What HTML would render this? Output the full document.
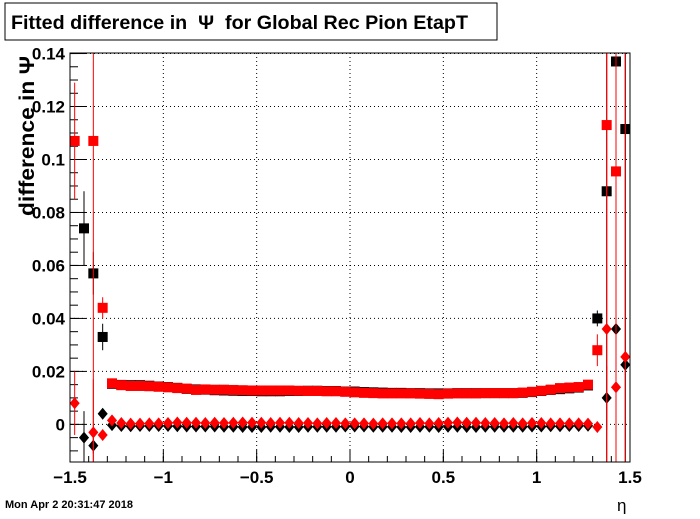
<!DOCTYPE html>
<html><head><meta charset="utf-8"><style>
body{margin:0;background:#fff;width:700px;height:514px;overflow:hidden;font-family:"Liberation Sans","DejaVu Sans",sans-serif}
</style></head><body>
<svg id="chart" width="700" height="514" xmlns="http://www.w3.org/2000/svg">
<rect x="0" y="0" width="700" height="514" fill="#fff"/>
<g id="grid"></g>
<g id="axes"></g>
<g id="marks"></g>
<rect x="70" y="53" width="560" height="409" fill="none" stroke="#000" stroke-width="1"/>
<rect x="5" y="3" width="492" height="37" fill="#fff" stroke="#000"/>
<text x="11" y="29" font-size="19" font-weight="bold" textLength="457" lengthAdjust="spacingAndGlyphs" style="white-space:pre">Fitted difference in  Ψ  for Global Rec Pion EtapT</text>
<text transform="translate(34,216) rotate(-90)" font-size="21" font-weight="bold" textLength="160" lengthAdjust="spacingAndGlyphs">difference in Ψ</text>
<text x="617" y="511" font-size="17">η</text>
<text x="5" y="508" font-size="11" font-weight="bold">Mon Apr  2 20:31:47 2018</text>
</svg>
<script>
const xTicks=[-1.5,-1,-0.5,0,0.5,1,1.5];
const xTickLabels=["\u22121.5","\u22121","\u22120.5","0","0.5","1","1.5"];
const yTicks=[0,0.02,0.04,0.06,0.08,0.1,0.12,0.14];
const yTickLabels=["0","0.02","0.04","0.06","0.08","0.1","0.12","0.14"];
const redSqMid=[0.0155,0.0148,0.0145,0.0145,0.0144,0.0142,0.014,0.0137,0.0135,0.013,0.0132,0.0131,0.0131,0.013,0.0129,0.0128,0.0128,0.0128,0.0128,0.0128,0.0127,0.0126,0.0126,0.0125,0.0125,0.0123,0.0121,0.0119,0.0118,0.0117,0.0117,0.0117,0.0117,0.0116,0.0115,0.0114,0.0116,0.0117,0.0117,0.0117,0.0118,0.0118,0.0118,0.0118,0.012,0.0123,0.0127,0.0131,0.0137,0.0139,0.0141,0.015];
const blackSqMid=[0.0153,0.0149,0.0148,0.0148,0.0146,0.0143,0.0141,0.0138,0.0134,0.0132,0.0131,0.0129,0.0128,0.0127,0.0126,0.0126,0.0125,0.0125,0.0125,0.0126,0.0126,0.0127,0.0127,0.0126,0.0126,0.0124,0.0124,0.0122,0.0121,0.012,0.0119,0.0119,0.0118,0.0118,0.0117,0.0117,0.0117,0.0118,0.0118,0.0118,0.0118,0.0118,0.0118,0.0118,0.0119,0.0122,0.0126,0.013,0.0133,0.0136,0.0139,0.0147];
const redDiaMid=[0.0015,0.0005,0.0003,0.0003,0.0004,0.0004,0.0005,0.0007,0.0006,0.0006,0.0005,0.0006,0.0005,0.0006,0.0007,0.0006,0.0006,0.0005,0.0006,0.0006,0.0005,0.0005,0.0004,0.0005,0.0005,0.0004,0.0004,0.0004,0.0003,0.0004,0.0004,0.0004,0.0004,0.0005,0.0004,0.0005,0.0006,0.0007,0.0006,0.0006,0.0005,0.0005,0.0004,0.0005,0.0004,0.0005,0.0005,0.0004,0.0004,0.0004,0.0004,0.0003];
const blackDiaMid=[-0.0003,-0.0006,-0.0007,-0.0006,-0.0006,-0.0006,-0.0006,-0.0007,-0.0008,-0.0008,-0.0008,-0.0008,-0.0009,-0.0009,-0.001,-0.001,-0.001,-0.0009,-0.0009,-0.001,-0.001,-0.0009,-0.0009,-0.0009,-0.0009,-0.0008,-0.0008,-0.0008,-0.0009,-0.0009,-0.0009,-0.001,-0.001,-0.0009,-0.0009,-0.001,-0.0009,-0.0009,-0.001,-0.001,-0.0009,-0.0009,-0.0009,-0.0009,-0.0009,-0.0008,-0.0008,-0.0007,-0.0007,-0.0006,-0.0006,-0.0005];
const redSqEdgeL=[0.107,null,0.107,0.044], redSqEdgeR=[0.028,0.113,0.0955,null];
const blackSqEdgeL=[null,0.074,0.057,0.033], blackSqEdgeR=[0.040,0.088,0.137,0.1115];
const redDiaEdgeL=[0.008,null,-0.003,-0.004], redDiaEdgeR=[-0.001,0.036,0.014,0.0255];
const blackDiaEdgeL=[null,-0.005,-0.008,0.004], blackDiaEdgeR=[null,0.010,0.036,0.0225];
const redSqErrL=[0.022,0,0.2,0.004], redSqErrR=[0.006,0.2,0.2,0];
const blackSqErrL=[0,0.014,0.008,0.005], blackSqErrR=[0.003,0.2,0.074,0.2];
const redDiaErrL=[0.012,0,0.02,0.002], redDiaErrR=[0.002,0.2,0.2,0.2];
const blackDiaErrL=[0,0.01,0.003,0.002], blackDiaErrR=[0,0.012,0.2,0.2];

const X0=70,X1=630,Y0=462,Y1=53, XMIN=-1.5,XMAX=1.5,YMIN=-0.0142,YMAX=0.1402;
const sx=v=>X0+(v-XMIN)/(XMAX-XMIN)*(X1-X0);
const sy=v=>Y0-(v-YMIN)/(YMAX-YMIN)*(Y0-Y1);
const NS="http://www.w3.org/2000/svg";
function mk(tag,attrs,parent){const e=document.createElementNS(NS,tag);for(const k in attrs)e.setAttribute(k,attrs[k]);parent.appendChild(e);return e;}
const grid=document.getElementById('grid'),axes=document.getElementById('axes'),marks=document.getElementById('marks');
xTicks.forEach((t,i)=>{
  const x=sx(t);
  if(t>-1.5&&t<1.5){const g=mk('line',{x1:x,x2:x,y1:Y1,y2:Y0,stroke:'#000','stroke-dasharray':'1,3'},grid);
  
  }
  const tk=mk('line',{x1:x,x2:x,y1:Y0,y2:Y0-12,stroke:'#000'},axes);
  
  
  const lb=mk('text',{x:x,y:Y0+21,'font-size':17,'font-weight':'bold','text-anchor':'middle'},axes);
  lb.textContent=xTickLabels[i];
  
  
});
for(let v=-1.5;v<=1.5001;v+=0.1){const x=sx(v);const m=mk('line',{x1:x,x2:x,y1:Y0,y2:Y0-6,stroke:'#000'},axes);
  
  }
yTicks.forEach((t,i)=>{
  const y=sy(t);
  const g=mk('line',{x1:X0,x2:X1,y1:y,y2:y,stroke:'#000','stroke-dasharray':'1,3'},grid);
  
  
  const tk=mk('line',{x1:X0,x2:X0+16,y1:y,y2:y,stroke:'#000'},axes);
  
  
  const lb=mk('text',{x:X0-5,y:y+6,'font-size':17,'font-weight':'bold','text-anchor':'end'},axes);
  lb.textContent=yTickLabels[i];
  
  
});
for(let v=-0.01;v<=0.1401;v+=0.005){const y=sy(v);const m=mk('line',{x1:X0,x2:X0+8,y1:y,y2:y,stroke:'#000'},axes);
  
  }

function series(edgeL,mid,edgeR,errL,errR,color,shape,name){
  const vals=[...edgeL,...mid,...edgeR];
  const errs=[...errL,...mid.map(()=>0.0003),...errR];
  vals.forEach((v,i)=>{
    if(v===null)return;
    const c=-1.475+0.05*i, x=sx(c), y=sy(v);
    const e=errs[i];
    const yt=Math.max(Y1,sy(v+e)), yb=Math.min(Y0,sy(v-e));
    const el=mk('line',{x1:x,x2:x,y1:yt,y2:yb,stroke:color,'stroke-width':1},marks);
    
    
    const hw=sx(c+0.025)-x;
    const hl=mk('line',{x1:x-hw,x2:x+hw,y1:y,y2:y,stroke:color},marks);
    
    
    let m;
    if(shape==='sq') m=mk('rect',{x:x-5,y:y-5,width:10,height:10,fill:color},marks);
    else m=mk('polygon',{points:`${x},${y-6} ${x+5},${y} ${x},${y+6} ${x-5},${y}`,fill:color},marks);
    
    
  });
}
series(blackSqEdgeL,blackSqMid,blackSqEdgeR,blackSqErrL,blackSqErrR,'#000','sq','black-square');
series(blackDiaEdgeL,blackDiaMid,blackDiaEdgeR,blackDiaErrL,blackDiaErrR,'#000','dia','black-diamond');
series(redSqEdgeL,redSqMid,redSqEdgeR,redSqErrL,redSqErrR,'#f00','sq','red-square');
series(redDiaEdgeL,redDiaMid,redDiaEdgeR,redDiaErrL,redDiaErrR,'#f00','dia','red-diamond');
</script>
</body></html>
